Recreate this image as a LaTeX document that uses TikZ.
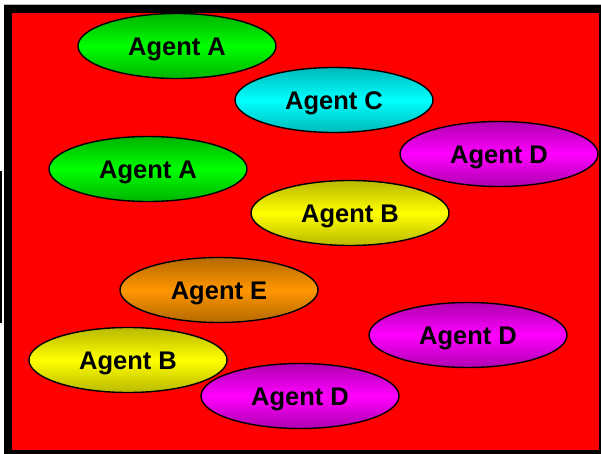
\documentclass[tikz,border=0pt]{standalone}
\usepackage{fontspec}
\setmainfont{Liberation Sans}
\usetikzlibrary{shapes.geometric}

\definecolor{frameRed}{RGB}{255,0,0}
\definecolor{grnHi}{RGB}{0,255,0}   \definecolor{grnLo}{RGB}{0,180,0}
\definecolor{cyaHi}{RGB}{0,255,255} \definecolor{cyaLo}{RGB}{0,185,185}
\definecolor{magHi}{RGB}{255,0,255} \definecolor{magLo}{RGB}{175,0,175}
\definecolor{yelHi}{RGB}{255,255,0} \definecolor{yelLo}{RGB}{185,185,0}
\definecolor{oraHi}{RGB}{255,150,0} \definecolor{oraLo}{RGB}{180,105,0}

\tikzset{
  agent/.style={ellipse, draw=black, line width=1.4pt, inner sep=0pt,
    minimum width=198pt, minimum height=65pt,
    text height=18.3pt, text depth=0pt,
    font=\fontsize{25.5}{26}\selectfont\bfseries, text=black},
  agentA/.style={agent, top color=grnLo, bottom color=grnLo, middle color=grnHi},
  agentB/.style={agent, top color=yelLo, bottom color=yelLo, middle color=yelHi},
  agentC/.style={agent, top color=cyaLo, bottom color=cyaLo, middle color=cyaHi},
  agentD/.style={agent, top color=magLo, bottom color=magLo, middle color=magHi},
  agentE/.style={agent, top color=oraLo, bottom color=oraLo, middle color=oraHi},
}

\begin{document}
\begin{tikzpicture}[x=1pt, y=-1pt]
  \useasboundingbox (0,0) rectangle (601,454);

  % frame: thin grey top rule, black border, red field
  \draw[gray!55, line width=1pt] (3.5,4.5) -- (601,4.5);
  \fill[black] (3.5,5) rectangle (601,454);
  \fill[frameRed] (12,13) rectangle (599,449.5);
  % short rule at the left edge
  \fill[black] (0,171) rectangle (2,323);

  % agents
  \node[agentA] (a1) at (177,46)  {Agent A};
  \node[agentC] (c1) at (334,100) {Agent C};
  \node[agentD] (d1) at (499,154) {Agent D};
  \node[agentA] (a2) at (148,169) {Agent A};
  \node[agentB] (b1) at (350,213) {Agent B};
  \node[agentE] (e1) at (219,290) {Agent E};
  \node[agentD] (d3) at (468,335) {Agent D};
  \node[agentB] (b2) at (128,360) {Agent B};
  \node[agentD] (d2) at (300,396) {Agent D};
\end{tikzpicture}
\end{document}
